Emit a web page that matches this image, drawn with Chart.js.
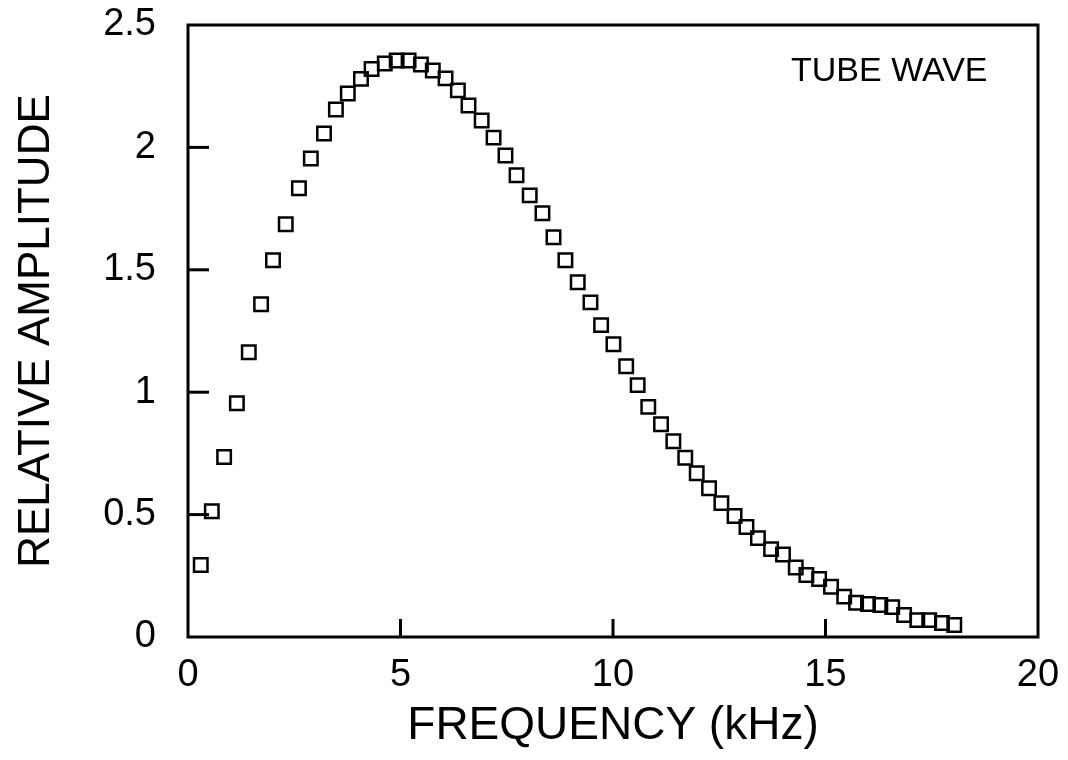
<!DOCTYPE html>
<html>
<head>
<meta charset="utf-8">
<title>Tube wave</title>
<script src="https://cdn.jsdelivr.net/npm/chart.js@4/dist/chart.umd.min.js"></script>
<style>
    body { margin: 0; background: #fff; }
    #contenedor { width: 1068px; height: 760px; }
</style>
</head>
<body>
<div id="contenedor"><canvas id="grafico"></canvas></div>
<script>
// valores
const frecuenciaKHz = [0.30, 0.56, 0.85, 1.15, 1.43, 1.72, 2.00, 2.30, 2.61, 2.89,
    3.20, 3.48, 3.76, 4.07, 4.32, 4.63, 4.91, 5.19, 5.48, 5.76,
    6.06, 6.35, 6.60, 6.91, 7.19, 7.47, 7.73, 8.04, 8.34, 8.60,
    8.88, 9.17, 9.47, 9.72, 10.01, 10.31, 10.58, 10.83, 11.13, 11.42,
    11.70, 11.97, 12.26, 12.55, 12.86, 13.14, 13.41, 13.72, 14.00, 14.30,
    14.55, 14.85, 15.13, 15.44, 15.72, 16.00, 16.29, 16.57, 16.85, 17.16,
    17.44, 17.74, 18.03];

const amplitudRelativa = [0.294, 0.514, 0.735, 0.955, 1.163, 1.359, 1.539, 1.686, 1.833, 1.955,
    2.057, 2.155, 2.220, 2.280, 2.320, 2.343, 2.355, 2.355, 2.339, 2.314,
    2.282, 2.233, 2.171, 2.110, 2.040, 1.967, 1.886, 1.804, 1.731, 1.633,
    1.539, 1.449, 1.367, 1.274, 1.196, 1.106, 1.029, 0.940, 0.869, 0.800,
    0.732, 0.669, 0.608, 0.547, 0.494, 0.449, 0.404, 0.359, 0.337, 0.284,
    0.253, 0.237, 0.205, 0.165, 0.140, 0.135, 0.131, 0.122, 0.090, 0.069,
    0.069, 0.057, 0.049];

const ticksX = [0, 5, 10, 15, 20];
const etiquetasX = ["0", "5", "10", "15", "20"];
const ticksY = [0, 0.5, 1, 1.5, 2, 2.5];
const etiquetasY = ["0", "0.5", "1", "1.5", "2", "2.5"];

const TITULO_X = "FREQUENCY (kHz)";
const TITULO_Y = "RELATIVE AMPLITUDE";
const ROTULO = "TUBE WAVE";

const FUENTE = "'Liberation Sans', Arial, sans-serif";

// marco, ticks hacia adentro y rotulo
const marcoPlugin = {
    id: "marco",
    afterDatasetsDraw(chart) {
        const { ctx, chartArea, scales } = chart;
        ctx.save();
        ctx.strokeStyle = "#000";
        ctx.lineWidth = 3;
        ctx.strokeRect(chartArea.left, chartArea.top, chartArea.width, chartArea.height);

        ticksY.slice(1, -1).forEach(valor => {
            const y = scales.y.getPixelForValue(valor);
            ctx.beginPath();
            ctx.moveTo(chartArea.left, y);
            ctx.lineTo(chartArea.left + 21, y);
            ctx.stroke();
        });
        ticksX.slice(1, -1).forEach(valor => {
            const x = scales.x.getPixelForValue(valor);
            ctx.beginPath();
            ctx.moveTo(x, chartArea.bottom);
            ctx.lineTo(x, chartArea.bottom - 18);
            ctx.stroke();
        });

        ctx.fillStyle = "#000";
        ctx.font = "34px " + FUENTE;
        ctx.textAlign = "center";
        ctx.textBaseline = "middle";
        ctx.fillText(ROTULO, scales.x.getPixelForValue(16.5), scales.y.getPixelForValue(2.31));
        ctx.restore();
    }
};

function crearGrafico() {
    const puntos = frecuenciaKHz.map((f, i) => ({ x: f, y: amplitudRelativa[i] }));

    new Chart(document.getElementById("grafico"), {
        type: "scatter",
        data: {
            datasets: [
                {
                    label: ROTULO,
                    data: puntos,
                    pointStyle: "rect",
                    pointRadius: 9.5,
                    borderColor: "#000",
                    backgroundColor: "rgba(0,0,0,0)",
                    borderWidth: 2.5
                }
            ]
        },
        options: {
            responsive: true,
            maintainAspectRatio: false,
            animation: false,
            layout: {
                padding: { top: 25, right: 30, left: 0, bottom: 0 }
            },
            plugins: {
                legend: { display: false },
                tooltip: { enabled: false }
            },
            scales: {
                x: {
                    type: "linear",
                    min: 0,
                    max: 20,
                    afterFit: escala => {
                        escala.height = 123;
                        escala.paddingLeft = 0;
                        escala.paddingRight = 0;
                    },
                    afterBuildTicks: escala => {
                        escala.ticks = ticksX.map(v => ({ value: v }));
                    },
                    grid: { display: false },
                    border: { display: false },
                    ticks: {
                        color: "#000",
                        padding: 8,
                        maxRotation: 0,
                        font: { family: FUENTE, size: 38 },
                        callback: valor => etiquetasX[ticksX.indexOf(valor)]
                    },
                    title: {
                        display: true,
                        text: TITULO_X,
                        color: "#000",
                        font: { family: FUENTE, size: 46 },
                        padding: { top: 0, bottom: 6 }
                    }
                },
                y: {
                    type: "linear",
                    min: 0,
                    max: 2.5,
                    afterFit: escala => {
                        escala.width = 188;
                        escala.paddingTop = 0;
                        escala.paddingBottom = 0;
                    },
                    afterBuildTicks: escala => {
                        escala.ticks = ticksY.map(v => ({ value: v }));
                    },
                    grid: { display: false },
                    border: { display: false },
                    ticks: {
                        color: "#000",
                        padding: 24,
                        font: { family: FUENTE, size: 38 },
                        callback: valor => etiquetasY[ticksY.indexOf(valor)]
                    },
                    title: {
                        display: true,
                        text: TITULO_Y,
                        color: "#000",
                        font: { family: FUENTE, size: 44 },
                        padding: { top: 10, bottom: 0 }
                    }
                }
            }
        },
        plugins: [marcoPlugin]
    });
}

crearGrafico();
</script>
</body>
</html>
